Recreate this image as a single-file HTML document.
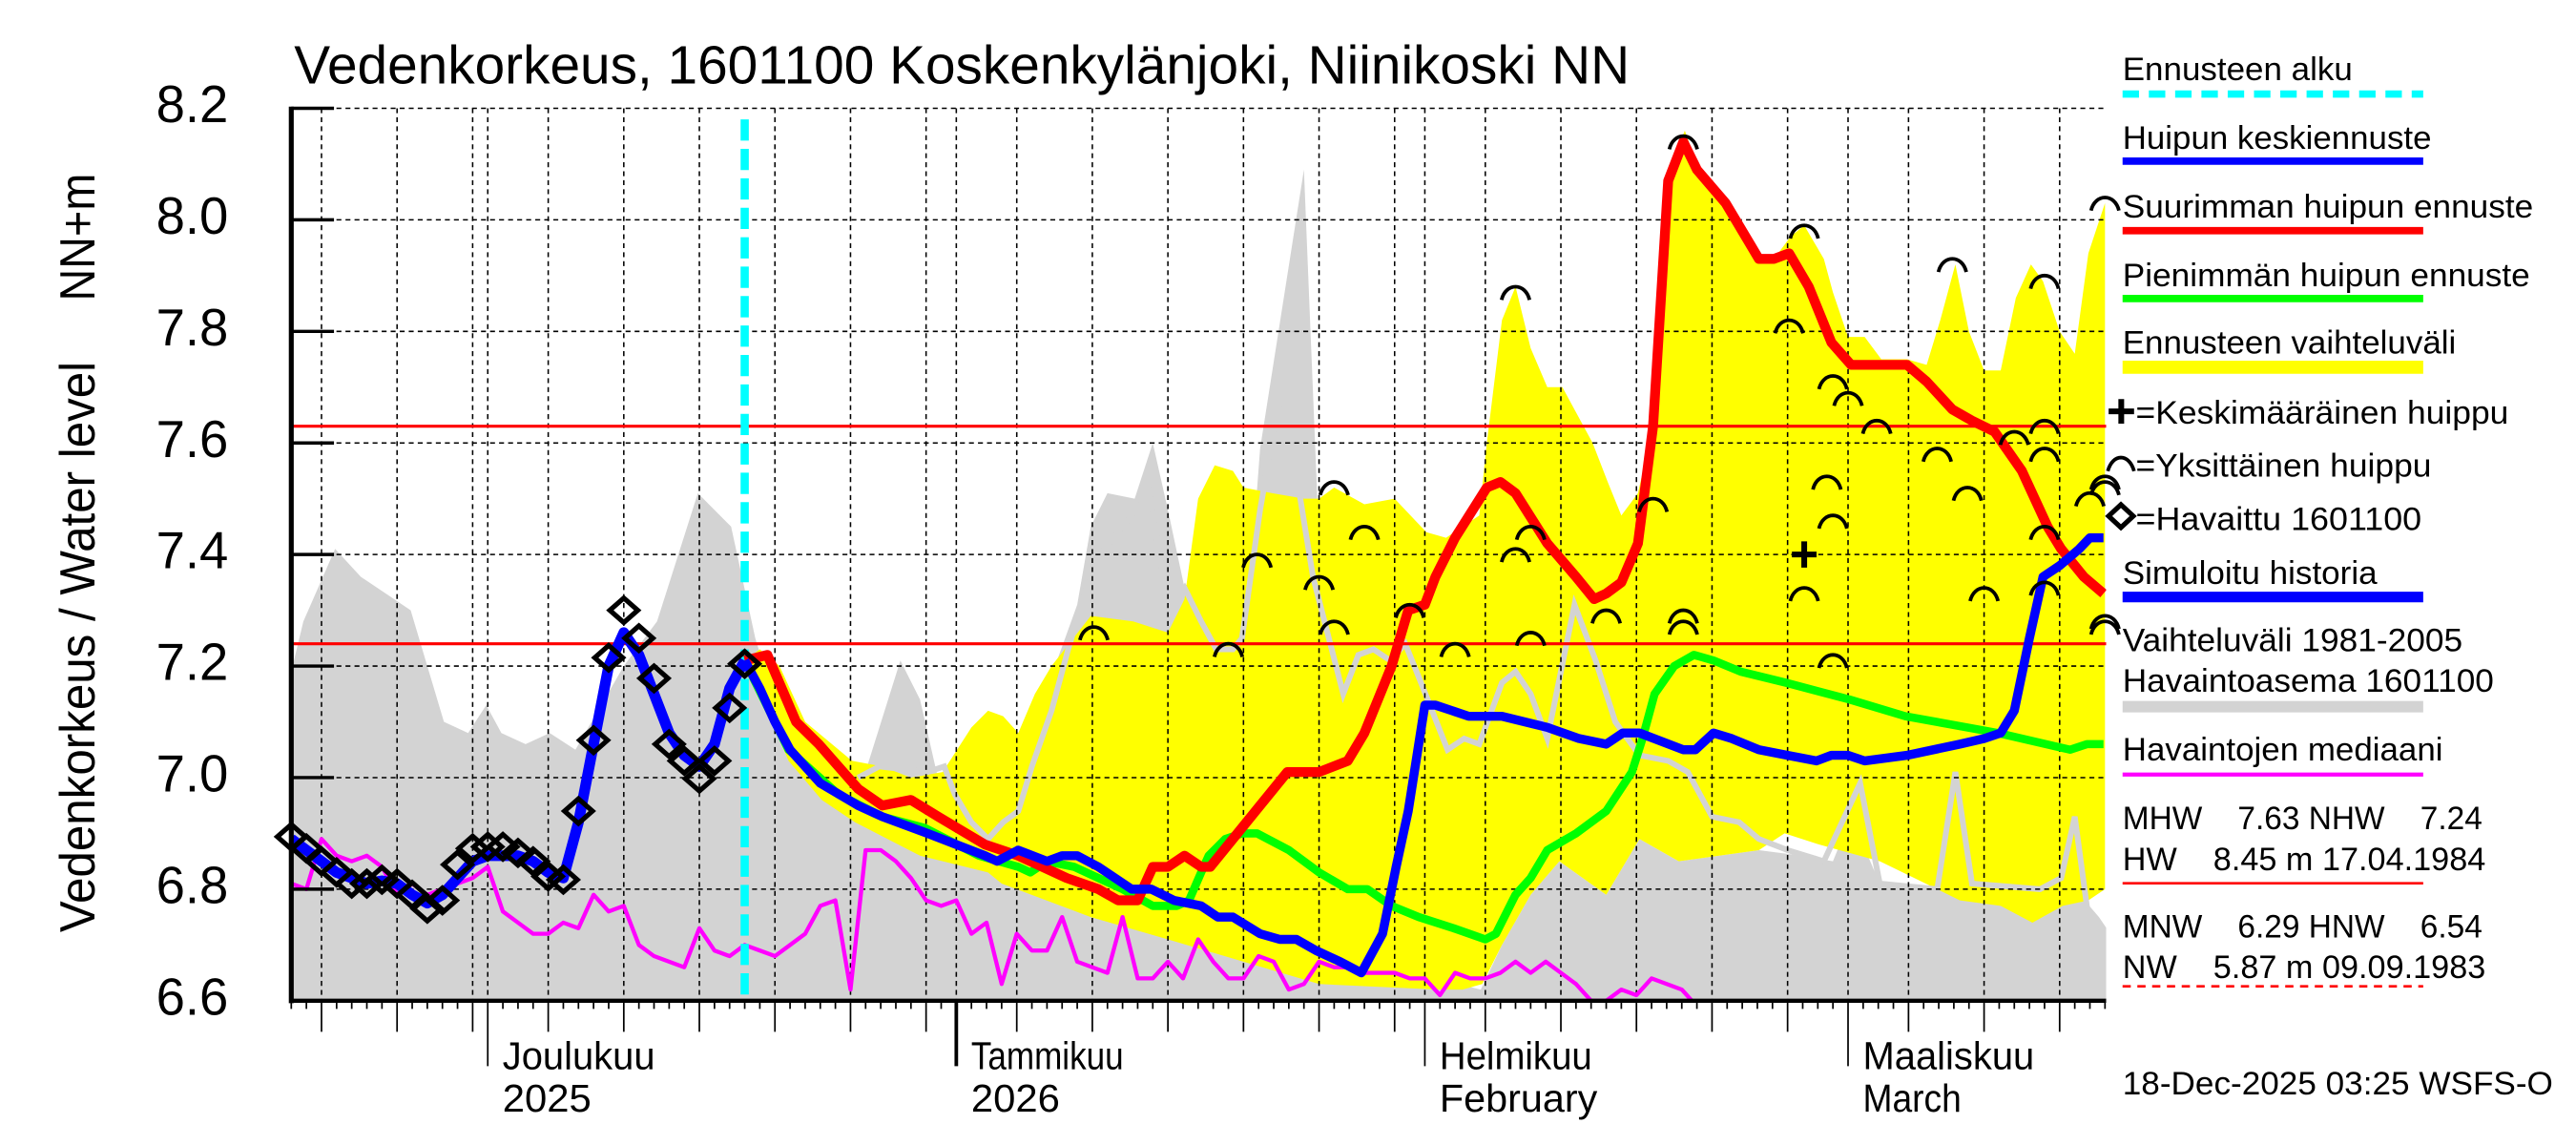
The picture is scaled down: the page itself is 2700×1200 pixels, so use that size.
<!DOCTYPE html>
<html><head><meta charset="utf-8"><title>Vedenkorkeus 1601100</title>
<style>html,body{margin:0;padding:0;background:#fff;}svg{display:block;}text{font-family:"Liberation Sans",sans-serif;fill:#000;}</style>
</head><body>
<svg id="chart" xmlns="http://www.w3.org/2000/svg" width="2700" height="1200" viewBox="0 0 1568 700" preserveAspectRatio="none">
<rect x="0" y="0" width="1568" height="700" fill="#fff"/>
<defs><clipPath id="plotclip"><rect x="177.3" y="60" width="1104.7" height="552"/></clipPath></defs>
<g id="bands" clip-path="url(#plotclip)"></g>
<g id="grid"></g>
<g id="series" clip-path="url(#plotclip)"></g>
<g id="marks"></g>
<g id="axes"></g>
<text x="179" y="51" font-size="33" textLength="813" lengthAdjust="spacingAndGlyphs">Vedenkorkeus, 1601100 Koskenkylänjoki, Niinikoski NN</text>
<text x="57.5" y="570" font-size="30" transform="rotate(-90 57.5 570)" textLength="349" lengthAdjust="spacingAndGlyphs">Vedenkorkeus / Water level</text>
<text x="57.5" y="184" font-size="30" transform="rotate(-90 57.5 184)" textLength="78" lengthAdjust="spacingAndGlyphs">NN+m</text>
<g id="legend">
<text x="1292" y="49" font-size="20" textLength="140" lengthAdjust="spacingAndGlyphs">Ennusteen alku</text>
<line x1="1292" y1="57.5" x2="1475" y2="57.5" stroke="#00ffff" stroke-width="4.5" stroke-dasharray="10 6"/>
<text x="1292" y="91" font-size="20" textLength="188" lengthAdjust="spacingAndGlyphs">Huipun keskiennuste</text>
<line x1="1292" y1="98.5" x2="1475" y2="98.5" stroke="#0000ff" stroke-width="4.5"/>
<text x="1292" y="133" font-size="20" textLength="250" lengthAdjust="spacingAndGlyphs">Suurimman huipun ennuste</text>
<line x1="1292" y1="141" x2="1475" y2="141" stroke="#ff0000" stroke-width="4.5"/>
<text x="1292" y="175" font-size="20" textLength="248" lengthAdjust="spacingAndGlyphs">Pienimmän huipun ennuste</text>
<line x1="1292" y1="182.5" x2="1475" y2="182.5" stroke="#00ff00" stroke-width="4.5"/>
<text x="1292" y="216" font-size="20" textLength="203" lengthAdjust="spacingAndGlyphs">Ennusteen vaihteluväli</text>
<line x1="1292" y1="224.5" x2="1475" y2="224.5" stroke="#ffff00" stroke-width="8"/>
<path d="M1283.5 251.5 H1299 M1291.2 244 V259" stroke="#000" stroke-width="3.5" fill="none"/>
<text x="1300" y="259" font-size="20" textLength="227" lengthAdjust="spacingAndGlyphs">=Keskimääräinen huippu</text>
<path d="M1283 288 C1286 277 1296 277 1299 288" stroke="#000" stroke-width="2.2" fill="none"/>
<text x="1300" y="291.5" font-size="20" textLength="180" lengthAdjust="spacingAndGlyphs">=Yksittäinen huippu</text>
<path d="M1283.5 315.5 L1291 308.5 L1298.5 315.5 L1291 322.5 Z" stroke="#000" stroke-width="3" fill="none"/>
<text x="1300" y="324" font-size="20" textLength="174" lengthAdjust="spacingAndGlyphs">=Havaittu 1601100</text>
<text x="1292" y="357" font-size="20" textLength="155" lengthAdjust="spacingAndGlyphs">Simuloitu historia</text>
<line x1="1292" y1="365" x2="1475" y2="365" stroke="#0000ff" stroke-width="6.5"/>
<text x="1292" y="398" font-size="20" textLength="207" lengthAdjust="spacingAndGlyphs">Vaihteluväli 1981-2005</text>
<text x="1292" y="423" font-size="20" textLength="226" lengthAdjust="spacingAndGlyphs">Havaintoasema 1601100</text>
<line x1="1292" y1="432" x2="1475" y2="432" stroke="#d3d3d3" stroke-width="7"/>
<text x="1292" y="465" font-size="20" textLength="195" lengthAdjust="spacingAndGlyphs">Havaintojen mediaani</text>
<line x1="1292" y1="473.5" x2="1475" y2="473.5" stroke="#ff00ff" stroke-width="2.5"/>
<text x="1292" y="507" font-size="20" xml:space="preserve" textLength="219" lengthAdjust="spacingAndGlyphs">MHW    7.63 NHW    7.24</text>
<text x="1292" y="532" font-size="20" xml:space="preserve" textLength="221" lengthAdjust="spacingAndGlyphs">HW    8.45 m 17.04.1984</text>
<line x1="1292" y1="540" x2="1475" y2="540" stroke="#ff0000" stroke-width="1.5"/>
<text x="1292" y="573" font-size="20" xml:space="preserve" textLength="219" lengthAdjust="spacingAndGlyphs">MNW    6.29 HNW    6.54</text>
<text x="1292" y="598" font-size="20" xml:space="preserve" textLength="221" lengthAdjust="spacingAndGlyphs">NW    5.87 m 09.09.1983</text>
<line x1="1292" y1="603" x2="1475" y2="603" stroke="#ff0000" stroke-width="1.5" stroke-dasharray="5 4"/>
<text x="1292" y="669" font-size="20" textLength="262" lengthAdjust="spacingAndGlyphs">18-Dec-2025 03:25 WSFS-O</text>
</g>
</svg>
<script>
// ---- data (day index from 18 Nov 2025, value m NN) ----
const grayBandDays=[0,0.8,2.9,4.6,6.8,7.9,10.1,11.7,12.9,13.9,15.5,17.1,18.8,22.0,24.2,26.9,29.1,30.7,32.4,35.1,36.7,38.1,40.3,41.6,43.2,45.9,49.2,52.0,52.9,54.0,55.8,57.0,58.0,59.1,61.2,63.3,64.1,67.0,67.9,69.3,71.0,74.2,78.7,80.1,82.0,83.9,87.0,89.2,91.8,97.1,99.9,102.0,103.2,105.1,108.9,115.2,117.7,119.6,120.1];
const grayBandVals=[7.19,7.28,7.41,7.36,7.32,7.30,7.10,7.08,7.13,7.08,7.06,7.08,7.05,7.20,7.28,7.51,7.45,7.25,7.10,7.02,6.99,7.02,7.21,7.14,6.95,7.0,7.1,7.31,7.45,7.51,7.50,7.60,7.48,7.34,7.2,7.3,7.59,8.09,7.49,7.0,6.75,6.65,6.62,6.70,6.79,6.85,6.79,6.89,6.85,6.87,6.86,6.85,6.93,6.81,6.80,6.79,6.81,6.75,6.73];
const rangeUpperDays=[30.0,31.0,32.3,34.0,37.1,39.1,41.0,43.1,45.0,46.1,47.1,48.1,49.2,50.3,52.9,55.7,58.0,59.1,60.0,61.1,62.3,63.0,64.9,67.0,68.0,69.0,71.0,73.0,75.1,76.4,78.6,79.1,80.1,81.0,82.0,83.1,84.1,86.1,87.1,88.0,89.1,90.1,90.6,91.1,92.2,93.0,94.9,97.1,98.1,99.2,100.1,101.4,102.0,103.0,104.1,105.2,106.9,108.2,109.1,110.1,111.0,112.0,113.1,114.1,115.1,115.9,117.0,118.0,118.9,120.0];
const rangeUpperVals=[7.21,7.23,7.20,7.10,7.03,7.02,7.0,7.01,7.09,7.12,7.11,7.08,7.15,7.2,7.29,7.28,7.26,7.32,7.50,7.56,7.55,7.52,7.51,7.50,7.50,7.52,7.49,7.50,7.44,7.43,7.47,7.60,7.82,7.88,7.77,7.70,7.70,7.60,7.53,7.47,7.51,7.63,7.85,8.08,8.16,8.10,8.04,7.94,7.93,7.97,7.99,7.93,7.87,7.79,7.79,7.75,7.75,7.74,7.82,7.92,7.80,7.73,7.73,7.86,7.92,7.89,7.80,7.76,7.94,8.03];
const rangeLowerDays=[30.0,31.8,32.9,35.1,37.3,41.6,46.1,47.0,52.9,58.0,63.0,68.0,75.9,77.5,78.8,80.1,82.0,83.9,87.0,89.2,91.8,97.1,98.8,101.1,105.1,108.9,110.4,113.1,115.2,117.2,118.9,120.0];
const rangeLowerVals=[7.20,7.10,7.03,6.96,6.92,6.86,6.83,6.81,6.75,6.71,6.67,6.63,6.62,6.62,6.63,6.70,6.79,6.85,6.79,6.89,6.85,6.87,6.90,6.88,6.85,6.80,6.78,6.77,6.74,6.77,6.78,6.80];
const stationDays=[37.5,38.9,42.1,43.2,43.9,45.0,46.1,47.1,48.1,49.0,50.3,51.4,52.5,53.5,56.8,58.0,59.1,60.2,61.2,62.3,62.9,64.1,65.5,66.7,67.6,69.6,70.6,71.6,72.7,73.7,74.6,76.5,77.6,78.6,80.1,81.0,82.0,83.1,84.9,86.3,87.6,89.2,91.1,92.4,94.0,95.8,97.1,99.0,101.4,103.8,105.1,108.9,110.1,111.2,115.7,117.1,118.0,118.9];
const stationVals=[7.0,7.02,7.01,7.02,6.97,6.92,6.89,6.92,6.94,7.02,7.12,7.23,7.33,7.40,7.51,7.30,7.34,7.28,7.23,7.23,7.25,7.48,7.7,7.51,7.36,7.15,7.22,7.23,7.21,7.24,7.18,7.05,7.07,7.06,7.17,7.19,7.15,7.07,7.31,7.21,7.10,7.04,7.03,7.01,6.93,6.92,6.89,6.87,6.85,6.99,6.81,6.80,7.01,6.81,6.80,6.82,6.93,6.75];
const medianVals=[6.81,6.80,6.89,6.86,6.85,6.86,6.84,6.79,6.81,6.79,6.80,6.81,6.82,6.84,6.76,6.74,6.72,6.72,6.74,6.73,6.79,6.76,6.77,6.70,6.68,6.67,6.66,6.73,6.69,6.68,6.70,6.69,6.68,6.70,6.72,6.77,6.78,6.62,6.87,6.87,6.85,6.82,6.78,6.77,6.78,6.72,6.74,6.63,6.72,6.69,6.69,6.75,6.67,6.66,6.65,6.75,6.64,6.64,6.67,6.64,6.71,6.67,6.64,6.64,6.68,6.67,6.62,6.63,6.67,6.66,6.66,6.65,6.65,6.65,6.64,6.64,6.61,6.65,6.64,6.64,6.65,6.67,6.65,6.67,6.65,6.63,6.60,6.60,6.62,6.61,6.64,6.63,6.62,6.59];
const maxPeakDays=[30.0,31.5,33.4,34.9,37.5,39.1,41.0,42.8,45.9,48.1,51.3,53.4,54.7,56.0,57.0,58.0,59.1,60.2,60.8,62.0,63.8,65.9,68.0,69.9,71.0,72.8,73.9,75.0,75.7,77.0,79.1,80.0,81.0,83.1,85.0,86.2,87.0,88.0,89.1,90.1,90.6,91.1,92.1,93.0,94.9,97.1,98.1,99.1,100.4,101.9,103.2,105.2,106.9,108.2,109.9,111.2,112.7,114.5,116.2,117.1,118.6,119.9];
const maxPeakVals=[7.21,7.22,7.10,7.06,6.98,6.95,6.96,6.93,6.88,6.86,6.82,6.80,6.78,6.78,6.84,6.84,6.86,6.84,6.84,6.88,6.94,7.01,7.01,7.03,7.08,7.20,7.30,7.31,7.36,7.43,7.52,7.53,7.51,7.42,7.36,7.32,7.33,7.35,7.42,7.63,7.85,8.07,8.14,8.09,8.03,7.93,7.93,7.94,7.88,7.78,7.74,7.74,7.74,7.71,7.66,7.64,7.62,7.55,7.45,7.41,7.36,7.33];
const minPeakDays=[30,32.9,36.2,39.1,41.9,45.5,48.1,48.9,50.0,51.8,55.0,57.0,58.6,59.4,60.2,60.7,61.8,62.9,63.9,66.0,68.0,69.9,71.2,72.8,74.6,76.9,79.0,79.7,81.0,82.0,83.1,85.0,87.0,88.7,89.4,90.2,91.5,92.8,94.1,95.9,98.9,103.1,106.8,112.9,117.7,118.8,119.9];
const minPeakVals=[7.21,7.05,6.97,6.93,6.91,6.86,6.84,6.83,6.85,6.84,6.80,6.77,6.77,6.78,6.83,6.86,6.89,6.90,6.90,6.87,6.83,6.80,6.80,6.77,6.75,6.73,6.71,6.72,6.79,6.82,6.87,6.90,6.94,7.01,7.07,7.15,7.20,7.22,7.21,7.19,7.17,7.14,7.11,7.08,7.05,7.06,7.06];
const meanPeakDays=[30,31,32,33,35,37.5,39.1,42.1,45.9,46.7,48.1,50.0,51.0,52.0,53.4,55.6,56.9,58.4,60.2,61.3,62.3,64.1,65.4,66.5,67.8,69.4,70.8,72.2,73.1,73.9,75.0,75.7,76.8,77.9,78.9,80.1,83.1,85.2,87.0,88.1,89.2,92.1,92.9,94.1,95.3,97.1,99.0,100.9,101.9,103.0,104.1,106.9,110.4,112.0,113.1,114.0,115.0,115.9,117.0,118.3,119.0,119.9];
const meanPeakVals=[7.21,7.16,7.10,7.05,6.99,6.95,6.93,6.90,6.86,6.85,6.87,6.85,6.86,6.86,6.84,6.80,6.80,6.78,6.77,6.75,6.75,6.72,6.71,6.71,6.69,6.67,6.65,6.72,6.84,6.94,7.13,7.13,7.12,7.11,7.11,7.11,7.09,7.07,7.06,7.08,7.08,7.05,7.05,7.08,7.07,7.05,7.04,7.03,7.04,7.04,7.03,7.04,7.06,7.07,7.08,7.12,7.25,7.36,7.38,7.41,7.43,7.43];
const simulatedVals=[6.89,6.87,6.85,6.83,6.82,6.81,6.815,6.81,6.79,6.775,6.79,6.82,6.85,6.86,6.86,6.86,6.85,6.83,6.82,6.92,7.06,7.20,7.26,7.22,7.15,7.08,7.04,7.02,7.06,7.16,7.21];
const observedVals=[6.894,6.873,6.85,6.83,6.81,6.81,6.817,6.81,6.79,6.765,6.78,6.844,6.873,6.876,6.876,6.865,6.85,6.823,6.817,6.94,7.067,7.215,7.30,7.25,7.178,7.06,7.03,6.998,7.03,7.125,7.204];
const peakDays=[53.1,62.0,63.9,69.0,68.0,69.0,71.0,74.0,77.0,81.0,82.0,81.0,82.0,87.0,90.1,92.1,92.1,92.1,100.1,99.1,102.0,103.0,104.9,101.6,102.0,100.1,102.0,108.9,109.9,110.9,112.0,114.0,116.0,116.0,116.0,116.0,116.0,119.0,120.0,120.0,120.0,120.0,120.0];
const peakVals=[7.27,7.24,7.40,7.53,7.36,7.28,7.45,7.31,7.24,7.88,7.45,7.41,7.26,7.30,7.50,8.15,7.30,7.28,7.99,7.82,7.72,7.69,7.64,7.54,7.47,7.34,7.22,7.59,7.93,7.52,7.34,7.62,7.90,7.64,7.59,7.45,7.35,7.51,8.04,7.54,7.53,7.29,7.28];
const meanPeakMarkDay=[100.1];
const meanPeakMarkVal=[7.40];
const yTickVals=[6.6,6.8,7.0,7.2,7.4,7.6,7.8,8.0,8.2];
const yTickLabels=["6.6","6.8","7.0","7.2","7.4","7.6","7.8","8.0","8.2"];
const refLevelVals=[7.63,7.24];
const forecastStartDay=[30];
const gridDays=[2,7,12,13,17,22,27,32,37,42,44,48,53,58,63,68,73,75,79,84,89,94,99,103,107,112,117];
const monthDays=[13,44,75,103];
const monthLabels=["Joulukuu","Tammikuu","Helmikuu","Maaliskuu"];
const monthSubLabels=["2025","2026","February","March"];

// ---- scales ----
const X0=177.3, XD=9.2, Y0=611.8, YK=341, VMIN=6.6;
function X(d){return X0+XD*d;}
function Y(v){return Y0-(v-VMIN)*YK;}
const NS="http://www.w3.org/2000/svg";
function mk(tag,parent){const e=document.createElementNS(NS,tag);parent.appendChild(e);return e;}
function pts(days,vals){return days.map((d,i)=>X(d).toFixed(2)+","+Y(vals[i]).toFixed(2));}
function seq(n,start){const a=[];for(let i=0;i<n;i++)a.push(start+i);return a;}

const bands=document.getElementById('bands'),grid=document.getElementById('grid'),series=document.getElementById('series'),marks=document.getElementById('marks'),axes=document.getElementById('axes');

// gray climatology band
let p=mk('polygon',bands);


p.setAttribute('points',pts(grayBandDays,grayBandVals).concat([X(grayBandDays[grayBandDays.length-1])+","+Y(VMIN),X(grayBandDays[0])+","+Y(VMIN)]).join(" "));
p.setAttribute('fill','#d3d3d3');
// yellow forecast range
p=mk('polygon',bands);


p.setAttribute('points',pts(rangeUpperDays,rangeUpperVals).concat(pts(rangeLowerDays,rangeLowerVals).reverse()).join(" "));
p.setAttribute('fill','#ffff00');
// station line (light gray)
p=mk('polyline',bands);


p.setAttribute('points',pts(stationDays,stationVals).join(" "));
p.setAttribute('fill','none');p.setAttribute('stroke','#d3d3d3');p.setAttribute('stroke-width','3.5');

// grid
yTickVals.forEach((v,i)=>{
  if(i===0)return;
  const l=mk('line',grid);
  
  
  l.setAttribute('x1',X0);l.setAttribute('x2',1282);l.setAttribute('y1',Y(v));l.setAttribute('y2',Y(v));
  l.setAttribute('stroke','#000');l.setAttribute('stroke-width','0.9');l.setAttribute('stroke-dasharray','3 2.5');
});
gridDays.forEach(d=>{
  const l=mk('line',grid);
  
  
  l.setAttribute('x1',X(d));l.setAttribute('x2',X(d));l.setAttribute('y1',Y(8.2));l.setAttribute('y2',Y0);
  l.setAttribute('stroke','#000');l.setAttribute('stroke-width','0.9');l.setAttribute('stroke-dasharray','3 2.5');
});
// reference levels
refLevelVals.forEach(v=>{
  const l=mk('line',grid);
  
  
  l.setAttribute('x1',X0);l.setAttribute('x2',1282);l.setAttribute('y1',Y(v));l.setAttribute('y2',Y(v));
  l.setAttribute('stroke','#ff0000');l.setAttribute('stroke-width','1.8');
});

// series lines
function line(name,days,vals,color,w){
  const l=mk('polyline',series);
  
  
  l.setAttribute('points',pts(days,vals).join(" "));
  l.setAttribute('fill','none');l.setAttribute('stroke',color);l.setAttribute('stroke-width',w);
  l.setAttribute('stroke-linejoin','round');
}
line('median-line',seq(medianVals.length,0),medianVals,'#ff00ff',2.5);
// forecast start
const fs=mk('line',series);


fs.setAttribute('x1',X(forecastStartDay[0]));fs.setAttribute('x2',X(forecastStartDay[0]));
fs.setAttribute('y1',73);fs.setAttribute('y2',Y0);
fs.setAttribute('stroke','#00ffff');fs.setAttribute('stroke-width','5');fs.setAttribute('stroke-dasharray','13 5');
line('min-peak-forecast-line',minPeakDays,minPeakVals,'#00ff00',5);
line('max-peak-forecast-line',maxPeakDays,maxPeakVals,'#ff0000',6);
line('mean-peak-forecast-line',meanPeakDays,meanPeakVals,'#0000ff',5.5);
line('simulated-history-line',seq(simulatedVals.length,0),simulatedVals,'#0000ff',6.5);

// observed diamonds
observedVals.forEach((v,i)=>{
  const x=X(i),y=Y(v);
  const d=mk('path',marks);
  
  
  d.setAttribute('d',`M${x-8.5} ${y} L${x} ${y-7.5} L${x+8.5} ${y} L${x} ${y+7.5} Z`);
  d.setAttribute('fill','none');d.setAttribute('stroke','#000');d.setAttribute('stroke-width','3');
});
// individual peaks
peakDays.forEach((d,i)=>{
  const x=X(d),y=Y(peakVals[i]);
  const a=mk('path',marks);
  
  
  a.setAttribute('d',`M${x-8.5} ${y+8} C${x-6} ${y-2.7} ${x+6} ${y-2.7} ${x+8.5} ${y+8}`);
  a.setAttribute('fill','none');a.setAttribute('stroke','#000');a.setAttribute('stroke-width','2.2');
});
meanPeakMarkDay.forEach((d,i)=>{
  const x=X(d),y=Y(meanPeakMarkVal[i]);
  const s=mk('path',marks);
  
  
  s.setAttribute('d',`M${x-7.5} ${y} H${x+7.5} M${x} ${y-8} V${y+8}`);
  s.setAttribute('stroke','#000');s.setAttribute('stroke-width','3.5');
});

// axes
let a=mk('line',axes);


a.setAttribute('x1',X0);a.setAttribute('x2',X0);a.setAttribute('y1',Y(8.2)-1);a.setAttribute('y2',Y0+1.5);
a.setAttribute('stroke','#000');a.setAttribute('stroke-width','3');
a=mk('line',axes);


a.setAttribute('x1',X0);a.setAttribute('x2',1282);a.setAttribute('y1',Y0);a.setAttribute('y2',Y0);
a.setAttribute('stroke','#000');a.setAttribute('stroke-width','2.5');
yTickVals.forEach((v,i)=>{
  const t=mk('line',axes);
  
  
  t.setAttribute('x1',X0);t.setAttribute('x2',X0+26);t.setAttribute('y1',Y(v));t.setAttribute('y2',Y(v));
  t.setAttribute('stroke','#000');t.setAttribute('stroke-width','2');
  const tx=mk('text',axes);
  
  
  tx.setAttribute('x',139);tx.setAttribute('y',Y(v)+8.5);tx.setAttribute('text-anchor','end');
  tx.setAttribute('font-size','32');tx.setAttribute('textLength','44');tx.setAttribute('lengthAdjust','spacingAndGlyphs');
  tx.textContent=yTickLabels[i];
});
for(let d=0;d<=120;d++){
  const t=mk('line',axes);
  
  
  let len=5,w=1;
  if(gridDays.includes(d))len=19;
  if(monthDays.includes(d)){len=40;}
  if(d===44)w=2.2;
  t.setAttribute('x1',X(d));t.setAttribute('x2',X(d));t.setAttribute('y1',Y0);t.setAttribute('y2',Y0+len);
  t.setAttribute('stroke','#000');t.setAttribute('stroke-width',w);
}
monthDays.forEach((d,i)=>{
  const t=mk('text',axes);
  
  
  t.setAttribute('x',X(d)+9);t.setAttribute('y',653.5);t.setAttribute('font-size','24');
  t.setAttribute('textLength',monthLabels[i].length*11.6);t.setAttribute('lengthAdjust','spacingAndGlyphs');
  t.textContent=monthLabels[i];
  const s=mk('text',axes);
  
  
  s.setAttribute('x',X(d)+9);s.setAttribute('y',679.5);s.setAttribute('font-size','24');
  s.setAttribute('textLength',monthSubLabels[i].length*(/^\d+$/.test(monthSubLabels[i])?13.5:12));s.setAttribute('lengthAdjust','spacingAndGlyphs');
  s.textContent=monthSubLabels[i];
});
</script>
</body></html>
